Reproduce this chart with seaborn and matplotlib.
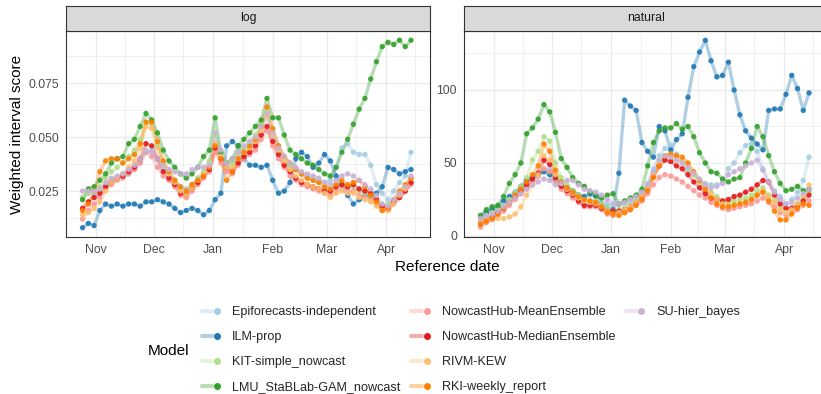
import numpy as np
import pandas as pd
import matplotlib
matplotlib.use("Agg")
import matplotlib.pyplot as plt
import matplotlib.dates as mdates
import seaborn as sns
from matplotlib.lines import Line2D
from matplotlib.legend_handler import HandlerTuple

sns.set_theme(style="white")
plt.rcParams['font.family'] = ['Liberation Sans', 'DejaVu Sans']

# ---------------- data ----------------
dates = pd.date_range("2021-10-25", periods=58, freq="3D")

models = ["Epiforecasts-independent", "ILM-prop", "KIT-simple_nowcast",
          "LMU_StaBLab-GAM_nowcast", "NowcastHub-MeanEnsemble",
          "NowcastHub-MedianEnsemble", "RIVM-KEW", "RKI-weekly_report",
          "SU-hier_bayes"]
colors = ["#A6CEE3", "#1F78B4", "#B2DF8A", "#33A02C", "#FB9A99",
          "#E31A1C", "#FDBF6F", "#FF7F00", "#CAB2D6"]
panels = ["log", "natural"]

# log scale scores
epi_log = [0.022, 0.024, 0.024, 0.026, 0.028, 0.030, 0.031, 0.032, 0.033, 0.035,
           0.038, 0.043, 0.044, 0.040, 0.035, 0.032, 0.029, 0.027, 0.026, 0.028,
           0.031, 0.034, 0.038, 0.051, 0.043, 0.036, 0.038, 0.042, 0.045, 0.047,
           0.049, 0.054, 0.060, 0.051, 0.045, 0.041, 0.037, 0.035, 0.033, 0.032,
           0.031, 0.030, 0.029, 0.030, 0.036, 0.045, 0.047, 0.043, 0.042, 0.042,
           0.037, 0.028, 0.024, 0.021, 0.025, 0.029, 0.032, 0.043]
ilm_log = [0.008, 0.010, 0.009, 0.016, 0.019, 0.018, 0.019, 0.018, 0.019, 0.019,
           0.018, 0.020, 0.020, 0.021, 0.020, 0.019, 0.017, 0.015, 0.016, 0.017,
           0.016, 0.014, 0.016, 0.021, 0.024, 0.046, 0.048, 0.046, 0.040, 0.037,
           0.037, 0.036, 0.037, 0.030, 0.024, 0.025, 0.029, 0.040, 0.043, 0.041,
           0.036, 0.038, 0.042, 0.039, 0.032, 0.028, 0.023, 0.019, 0.021, 0.023,
           0.022, 0.024, 0.027, 0.036, 0.035, 0.033, 0.034, 0.035]
kit_log = [0.022, 0.024, 0.025, 0.027, 0.031, 0.034, 0.036, 0.038, 0.041, 0.044,
           0.049, 0.057, 0.056, 0.046, 0.038, 0.034, 0.030, 0.026, 0.025, 0.028,
           0.031, 0.034, 0.039, 0.051, 0.043, 0.038, 0.038, 0.042, 0.045, 0.048,
           0.051, 0.056, 0.062, 0.053, 0.046, 0.041, 0.037, 0.035, 0.033, 0.031,
           0.030, 0.029, 0.027, 0.026, 0.028, 0.028, 0.027, 0.027, 0.025, 0.024,
           0.022, 0.020, 0.018, 0.019, 0.021, 0.024, 0.027, 0.029]
lmu_log = [0.021, 0.026, 0.027, 0.030, 0.033, 0.038, 0.040, 0.041, 0.047, 0.049,
           0.055, 0.061, 0.058, 0.052, 0.044, 0.039, 0.036, 0.033, 0.031, 0.033,
           0.036, 0.041, 0.044, 0.059, 0.043, 0.038, 0.040, 0.046, 0.049, 0.052,
           0.055, 0.058, 0.068, 0.059, 0.059, 0.051, 0.044, 0.042, 0.040, 0.038,
           0.037, 0.035, 0.033, 0.032, 0.036, 0.043, 0.049, 0.056, 0.063, 0.068,
           0.077, 0.085, 0.092, 0.094, 0.093, 0.095, 0.092, 0.095]
mean_log = [0.012, 0.016, 0.019, 0.022, 0.026, 0.028, 0.030, 0.031, 0.033, 0.035,
            0.038, 0.043, 0.041, 0.036, 0.032, 0.030, 0.027, 0.023, 0.022, 0.025,
            0.028, 0.031, 0.034, 0.043, 0.038, 0.034, 0.033, 0.037, 0.040, 0.042,
            0.044, 0.049, 0.053, 0.046, 0.040, 0.036, 0.032, 0.030, 0.028, 0.027,
            0.026, 0.025, 0.024, 0.023, 0.025, 0.026, 0.025, 0.025, 0.023, 0.022,
            0.021, 0.019, 0.016, 0.016, 0.019, 0.022, 0.025, 0.028]
median_log = [0.017, 0.020, 0.022, 0.024, 0.027, 0.029, 0.031, 0.032, 0.034, 0.036,
              0.040, 0.047, 0.046, 0.040, 0.034, 0.031, 0.028, 0.024, 0.023, 0.026,
              0.029, 0.032, 0.035, 0.045, 0.040, 0.036, 0.034, 0.038, 0.041, 0.043,
              0.046, 0.051, 0.055, 0.048, 0.042, 0.037, 0.034, 0.031, 0.029, 0.028,
              0.027, 0.026, 0.025, 0.025, 0.027, 0.028, 0.027, 0.028, 0.026, 0.025,
              0.024, 0.021, 0.018, 0.017, 0.020, 0.022, 0.025, 0.029]
rivm_log = [0.014, 0.015, 0.017, 0.020, 0.025, 0.029, 0.031, 0.033, 0.036, 0.039,
            0.045, 0.055, 0.054, 0.045, 0.037, 0.033, 0.029, 0.025, 0.023, 0.026,
            0.030, 0.033, 0.037, 0.047, 0.041, 0.036, 0.036, 0.040, 0.043, 0.045,
            0.048, 0.053, 0.060, 0.051, 0.044, 0.039, 0.035, 0.032, 0.030, 0.028,
            0.027, 0.026, 0.024, 0.022, 0.024, 0.025, 0.024, 0.024, 0.022, 0.021,
            0.020, 0.018, 0.016, 0.016, 0.019, 0.023, 0.026, 0.031]
rki_log = [0.016, 0.019, 0.025, 0.034, 0.039, 0.040, 0.040, 0.038, 0.040, 0.042,
           0.047, 0.057, 0.057, 0.048, 0.039, 0.034, 0.030, 0.027, 0.025, 0.028,
           0.030, 0.032, 0.036, 0.046, 0.040, 0.030, 0.034, 0.040, 0.043, 0.046,
           0.049, 0.055, 0.064, 0.054, 0.046, 0.041, 0.038, 0.035, 0.033, 0.031,
           0.030, 0.029, 0.027, 0.026, 0.028, 0.030, 0.028, 0.029, 0.030, 0.027,
           0.023, 0.020, 0.016, 0.017, 0.021, 0.025, 0.028, 0.031]
su_log = [0.025, 0.025, 0.025, 0.026, 0.029, 0.031, 0.032, 0.033, 0.035, 0.037,
          0.040, 0.044, 0.043, 0.040, 0.037, 0.035, 0.034, 0.033, 0.033, 0.035,
          0.036, 0.036, 0.037, 0.052, 0.044, 0.038, 0.040, 0.043, 0.046, 0.048,
          0.050, 0.055, 0.061, 0.052, 0.045, 0.041, 0.038, 0.036, 0.034, 0.033,
          0.032, 0.031, 0.029, 0.028, 0.030, 0.032, 0.033, 0.032, 0.030, 0.028,
          0.026, 0.023, 0.019, 0.018, 0.021, 0.024, 0.027, 0.032]

# natural scale scores
epi_nat = [14, 16, 17, 19, 21, 25, 29, 32, 35, 38,
           41, 45, 46, 40, 35, 33, 31, 28, 27, 28,
           28, 26, 22, 20, 21, 22, 23, 26, 30, 36,
           46, 55, 60, 62, 56, 50, 45, 42, 38, 36,
           35, 35, 37, 46, 50, 57, 62, 63, 58, 46,
           37, 31, 27, 22, 25, 30, 38, 54]
ilm_nat = [12, 16, 18, 20, 24, 27, 30, 34, 38, 40,
           42, 44, 42, 38, 35, 33, 31, 28, 27, 29,
           27, 22, 19, 18, 43, 93, 89, 86, 64, 58,
           54, 75, 72, 59, 66, 70, 95, 116, 126, 134,
           120, 109, 110, 119, 100, 83, 72, 67, 63, 59,
           86, 87, 87, 97, 110, 101, 86, 98]
kit_nat = [12, 14, 16, 18, 21, 25, 30, 34, 40, 52,
           58, 68, 65, 50, 40, 35, 31, 28, 25, 24,
           24, 22, 19, 17, 18, 19, 21, 24, 28, 34,
           43, 50, 55, 54, 52, 50, 46, 42, 37, 33,
           30, 27, 24, 23, 24, 25, 26, 28, 31, 33,
           28, 24, 19, 17, 19, 22, 26, 30]
lmu_nat = [14, 18, 20, 21, 27, 36, 42, 50, 70, 74,
           80, 90, 85, 71, 53, 47, 40, 36, 34, 30,
           28, 26, 28, 29, 22, 24, 26, 28, 32, 48,
           64, 72, 74, 74, 77, 73, 75, 68, 57, 50,
           44, 43, 39, 37, 39, 40, 50, 60, 75, 68,
           55, 44, 36, 31, 32, 34, 31, 32]
mean_nat = [6, 9, 11, 14, 17, 21, 25, 29, 33, 37,
            41, 46, 44, 37, 32, 29, 26, 23, 20, 20,
            20, 18, 15, 14, 15, 16, 18, 21, 24, 29,
            35, 40, 42, 41, 39, 37, 34, 31, 28, 26,
            23, 21, 19, 18, 19, 20, 21, 22, 24, 26,
            23, 20, 16, 14, 16, 18, 21, 24]
median_nat = [9, 11, 13, 16, 19, 23, 27, 31, 35, 39,
              43, 52, 49, 40, 34, 31, 28, 24, 21, 21,
              21, 19, 17, 17, 17, 18, 20, 23, 27, 33,
              41, 48, 52, 51, 48, 46, 42, 37, 33, 29,
              26, 25, 24, 25, 27, 28, 30, 32, 35, 38,
              37, 28, 22, 19, 19, 21, 24, 28]
rivm_nat = [10, 11, 12, 12, 12, 13, 15, 20, 28, 35,
            42, 55, 52, 42, 36, 32, 29, 26, 24, 23,
            22, 20, 17, 15, 16, 18, 20, 23, 27, 33,
            42, 50, 55, 56, 54, 52, 48, 43, 38, 33,
            29, 25, 22, 21, 21, 22, 23, 25, 28, 31,
            27, 23, 18, 16, 18, 22, 28, 35]
rki_nat = [8, 10, 12, 15, 19, 23, 28, 32, 37, 42,
           48, 63, 58, 45, 37, 33, 30, 27, 25, 24,
           23, 20, 16, 15, 14, 16, 18, 21, 25, 31,
           40, 48, 55, 56, 55, 54, 50, 44, 38, 32,
           26, 22, 20, 20, 21, 22, 23, 25, 28, 30,
           24, 17, 11, 11, 15, 19, 22, 21]
su_nat = [12, 14, 15, 17, 20, 23, 26, 29, 32, 35,
          37, 39, 38, 35, 36, 38, 38, 35, 32, 31,
          30, 28, 25, 22, 22, 23, 25, 27, 30, 35,
          44, 52, 55, 54, 52, 50, 47, 43, 39, 35,
          33, 34, 36, 42, 44, 46, 48, 50, 52, 45,
          37, 30, 25, 22, 23, 26, 29, 32]

log_series = [epi_log, ilm_log, kit_log, lmu_log, mean_log, median_log,
              rivm_log, rki_log, su_log]
nat_series = [epi_nat, ilm_nat, kit_nat, lmu_nat, mean_nat, median_nat,
              rivm_nat, rki_nat, su_nat]

frames = []
for panel, series in zip(panels, [log_series, nat_series]):
    for m, vals in zip(models, series):
        frames.append(pd.DataFrame({"date": dates, "score": vals,
                                    "model": m, "scale": panel}))
df = pd.concat(frames, ignore_index=True)
palette = dict(zip(models, colors))

# ---------------- figure ----------------
W, H = 821, 394
fig = plt.figure(figsize=(W / 100, H / 100), dpi=100)

def fx(px):
    return px / W

def fy(py):
    return (H - py) / H

panel_left = [66, 464]
panel_w = 364
p_top, p_bot = 30.7, 237
s_top = 6

xlim = (pd.Timestamp("2021-10-16 09:00"), pd.Timestamp("2022-04-23 21:00"))
ylims = {"log": (0.0037, 0.0994), "natural": (-0.7, 140.6)}
ymaj = {"log": [0.025, 0.05, 0.075], "natural": [0, 50, 100]}
ymin = {"log": [0.0125, 0.0375, 0.0625, 0.0875], "natural": [25, 75, 125]}
ylab = {"log": ["0.025", "0.050", "0.075"], "natural": ["0", "50", "100"]}

month_ticks = pd.to_datetime(["2021-11-01", "2021-12-01", "2022-01-01",
                              "2022-02-01", "2022-03-01", "2022-04-01"])
maj_num = mdates.date2num(month_ticks)
min_num = list((maj_num[:-1] + maj_num[1:]) / 2) + [maj_num[-1] + 15.25]

border = "#333333"
for panel, left in zip(panels, panel_left):
    ax = fig.add_axes([fx(left), fy(p_bot), fx(panel_w), (p_bot - p_top) / H])
    sub = df[df.scale == panel]
    for m in models:
        sns.lineplot(data=sub[sub.model == m], x="date", y="score",
                     color=palette[m], alpha=0.35, linewidth=2.4,
                     estimator=None, ax=ax, legend=False, zorder=2)
    sns.scatterplot(data=sub, x="date", y="score", hue="model",
                    hue_order=models, palette=palette, s=15, alpha=0.9,
                    linewidth=0, ax=ax, legend=False, zorder=3)
    ax.set_xlim(xlim)
    ax.set_ylim(ylims[panel])
    ax.set_xticks(maj_num)
    ax.set_xticks(min_num, minor=True)
    ax.xaxis.set_major_formatter(mdates.DateFormatter("%b"))
    ax.set_yticks(ymaj[panel])
    ax.set_yticklabels(ylab[panel])
    ax.set_yticks(ymin[panel], minor=True)
    ax.grid(True, which="major", color="#EBEBEB", linewidth=1.0, zorder=0)
    ax.grid(True, which="minor", color="#EBEBEB", linewidth=0.5, zorder=0)
    ax.set_axisbelow(True)
    ax.set_xlabel("")
    ax.set_ylabel("")
    ax.tick_params(axis="both", which="major", length=3, width=0.7,
                   color=border, labelcolor="#4D4D4D", labelsize=8.8, pad=2)
    ax.tick_params(axis="both", which="minor", length=0)
    for sp in ax.spines.values():
        sp.set_color(border)
        sp.set_linewidth(0.8)
    ax.set_facecolor("white")

    # facet strip
    sax = fig.add_axes([fx(left), fy(p_top), fx(panel_w), (p_top - s_top) / H])
    sax.set_facecolor("#D9D9D9")
    sax.set_xticks([])
    sax.set_yticks([])
    for sp in sax.spines.values():
        sp.set_color(border)
        sp.set_linewidth(0.8)
    sax.text(0.5, 0.5, panel, ha="center", va="center", fontsize=8.8,
             color="#1A1A1A", transform=sax.transAxes)

fig.text(fx(17), fy(134), "Weighted interval score", rotation=90,
         ha="center", va="center", fontsize=11, color="black")
fig.text(fx(447), fy(267), "Reference date", ha="center", va="center",
         fontsize=11, color="black")

# legend
handles, labels = [], []
for m, c in zip(models, colors):
    ln = Line2D([], [], color=c, alpha=0.35, linewidth=3)
    pt = Line2D([], [], color=c, marker="o", markersize=4, linestyle="none")
    handles.append((ln, pt))
    labels.append(m)
for _ in range(3):
    handles.append(Line2D([], [], alpha=0))
    labels.append("")
fig.legend(handles, labels, ncol=3, loc="upper left",
           bbox_to_anchor=(fx(202), fy(306)), frameon=False,
           fontsize=9.1, handlelength=1.6, handletextpad=0.8,
           columnspacing=0.85, labelspacing=1.03, borderpad=0,
           borderaxespad=0, handler_map={tuple: HandlerTuple(ndivide=None)})
fig.text(fx(148), fy(351), "Model", ha="left", va="center", fontsize=11,
         color="black")

fig.savefig("out.png", dpi=100)
